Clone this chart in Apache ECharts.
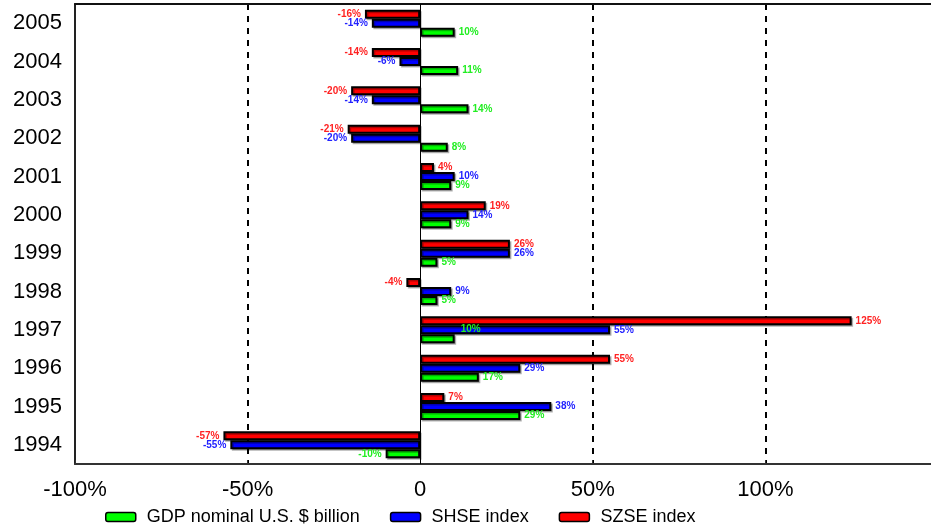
<!DOCTYPE html>
<html>
<head>
<meta charset="utf-8">
<script src="https://cdn.jsdelivr.net/npm/echarts@6/dist/echarts.min.js"></script>
<style>
  html, body { margin: 0; padding: 0; background: #fff; }
  #chart { width: 931px; height: 531px; }
</style>
</head>
<body>
<div id="chart"></div>
<script>
// Years, bottom to top
const years = ['1994', '1995', '1996', '1997', '1998', '1999', '2000', '2001', '2002', '2003', '2004', '2005'];

// Yearly growth, percent
const gdpGrowth = [-10, 29, 17, 10, 5, 5, 9, 9, 8, 14, 11, 10];
const shseGrowth = [-55, 38, 29, 55, 9, 26, 14, 10, -20, -14, -6, -14];
const szseGrowth = [-57, 7, 55, 125, -4, 26, 19, 4, -21, -20, -14, -16];

const seriesNames = ['GDP nominal U.S. $ billion', 'SHSE index', 'SZSE index'];
const seriesColors = ['#00ff00', '#0000ff', '#ff0000'];
const labelColors = ['#22ee22', '#2222ff', '#ff2222'];

document.addEventListener('DOMContentLoaded', function() {
    const chart = echarts.init(document.getElementById('chart'));

    // bar values -> data items, negatives get their label on the left
    function toData(values, idx) {
        return values.map(function(v, i) {
            const item = { value: v };
            if (v < 0) {
                item.label = { position: 'left' };
            }
            // the odd GDP label of 1997 sits up on the SHSE bar
            if (idx === 0 && years[i] === '1997') {
                item.label = { position: 'right', offset: [2, -10] };
            }
            return item;
        });
    }

    const allValues = [gdpGrowth, shseGrowth, szseGrowth];

    // first series is drawn on top of each group, so go SZSE -> SHSE -> GDP
    const series = [2, 1, 0].map(function(idx) {
        const s = {
            name: seriesNames[idx],
            type: 'bar',
            barWidth: 9,
            barGap: '0%',
            barCategoryGap: '40%',
            data: toData(allValues[idx], idx),
            itemStyle: {
                color: seriesColors[idx],
                borderColor: '#000',
                borderWidth: 2,
                shadowColor: 'rgba(0,0,0,0.3)',
                shadowOffsetX: 1.5,
                shadowOffsetY: 1.5,
                shadowBlur: 0
            },
            label: {
                show: true,
                position: 'right',
                distance: 4,
                color: labelColors[idx],
                fontFamily: 'Liberation Sans, Arial, sans-serif',
                fontWeight: 'bold',
                fontSize: 10,
                formatter: function(p) { return p.value + '%'; }
            }
        };
        if (idx === 0) {
            // solid zero line
            s.markLine = {
                silent: true,
                symbol: 'none',
                label: { show: false },
                lineStyle: { color: '#000', width: 1, type: 'solid' },
                data: [{ xAxis: 0 }],
                z: 1
            };
        }
        return s;
    });

    const options = {
        animation: false,
        backgroundColor: '#fff',
        textStyle: { fontFamily: 'Liberation Sans, Arial, sans-serif' },
        grid: {
            left: 75,
            right: 0,
            top: 4,
            bottom: 67
        },
        legend: {
            data: seriesNames,
            left: 100,
            bottom: 0,
            itemWidth: 30,
            itemHeight: 9,
            itemGap: 30,
            itemStyle: { borderColor: '#000', borderWidth: 1.5 },
            textStyle: {
                fontSize: 18,
                color: '#000',
                padding: [0, 0, 0, 6]
            }
        },
        xAxis: [
            {
                type: 'value',
                min: -100,
                max: 148,
                interval: 50,
                axisLine: { show: true, lineStyle: { color: '#333', width: 2 } },
                axisTick: { show: true, inside: true, length: 4, lineStyle: { color: '#333' } },
                axisLabel: {
                    fontSize: 22,
                    color: '#000',
                    margin: 15,
                    showMaxLabel: false,
                    formatter: function(v) { return v === 0 ? '0' : v + '%'; }
                },
                splitLine: {
                    show: true,
                    lineStyle: {
                        // only -50%, 50%, 100% are dashed
                        color: ['transparent', '#000', 'transparent', '#000', '#000', 'transparent'],
                        width: 2,
                        type: [6, 6]
                    }
                }
            },
            {
                // top frame line
                type: 'value',
                position: 'top',
                min: -100,
                max: 148,
                axisLine: { show: true, lineStyle: { color: '#111', width: 2 } },
                axisTick: { show: false },
                axisLabel: { show: false },
                splitLine: { show: false }
            }
        ],
        yAxis: {
            type: 'category',
            data: years,
            axisLine: { show: true, onZero: false, lineStyle: { color: '#222', width: 2 } },
            axisTick: { show: false },
            axisLabel: { fontSize: 22, color: '#000', margin: 13 }
        },
        series: series
    };

    chart.setOption(options);

    window.addEventListener('resize', function() {
        chart.resize();
    });
});
</script>
</body>
</html>
